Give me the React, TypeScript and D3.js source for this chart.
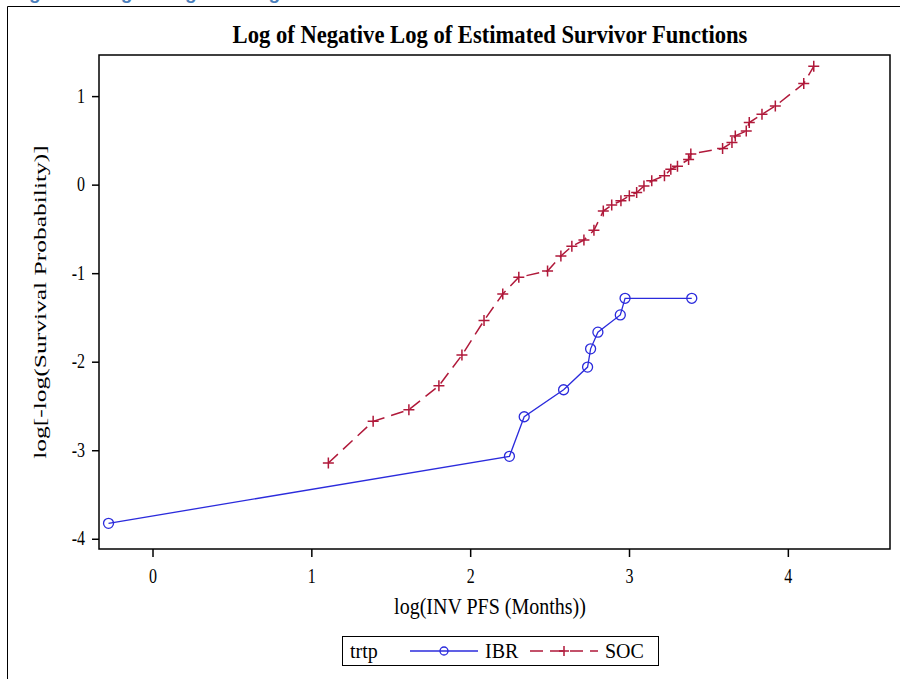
import React from "react";
import * as d3 from "d3";

const ibrX = [-0.28, 2.244, 2.337, 2.585, 2.736, 2.755, 2.801, 2.942, 2.972, 3.392];
const ibrY = [-3.82, -3.063, -2.616, -2.311, -2.055, -1.849, -1.661, -1.466, -1.278, -1.278];

const socX = [1.104, 1.386, 1.611, 1.8, 1.945, 2.084, 2.202, 2.303, 2.484, 2.568, 2.637, 2.713, 2.776, 2.835, 2.888, 2.946, 2.999, 3.045, 3.091, 3.14, 3.22, 3.26, 3.302, 3.372, 3.386, 3.586, 3.645, 3.666, 3.735, 3.754, 3.834, 3.918, 4.097, 4.16];
const socY = [-3.138, -2.668, -2.537, -2.266, -1.92, -1.53, -1.229, -1.041, -0.97, -0.8, -0.69, -0.62, -0.51, -0.293, -0.225, -0.177, -0.12, -0.083, -0.011, 0.049, 0.105, 0.18, 0.214, 0.29, 0.352, 0.414, 0.481, 0.556, 0.612, 0.707, 0.8, 0.894, 1.147, 1.342];

const xTicks = [0, 1, 2, 3, 4];
const yTicks = [1, 0, -1, -2, -3, -4];

const W = 900;
const H = 679;
const L = 99, R = 890, T = 55, B = 549;

const IBR_COLOR = "#2b2bdc";
const SOC_COLOR = "#b0193a";

function T2(props: { x: number; y: number; s?: number; size: number; anchor?: string; bold?: boolean; children: React.ReactNode }) {
  const s = props.s ?? 1.2;
  return (
    <text
      transform={`translate(${props.x},${props.y}) scale(1,${s})`}
      textAnchor={props.anchor || "start"}
      fontSize={props.size}
      fontWeight={props.bold ? "bold" : "normal"}
    >
      {props.children}
    </text>
  );
}

export default function App() {
  const x = d3.scaleLinear().domain([-0.34, 4.64]).range([L, R]);
  const y = d3.scaleLinear().domain([-4.11, 1.47]).range([B, T]);
  const ibr = ibrX.map((v, i) => [v, ibrY[i]] as [number, number]);
  const soc = socX.map((v, i) => [v, socY[i]] as [number, number]);
  const line = d3.line<[number, number]>().x((d) => x(d[0])).y((d) => y(d[1]));
  const serif = "'Liberation Serif', 'Times New Roman', serif";
  const plus = (cx: number, cy: number, s: number) => `M${cx - s},${cy}H${cx + s}M${cx},${cy - s}V${cy + s}`;
  return (
    <svg width={W} height={H} style={{ position: "absolute", left: 0, top: 0, background: "#fff" }} fontFamily={serif}>
      <rect x={0} y={0} width={W} height={H} fill="#fff" />
      <text x={12} y={-1} fontFamily="'Liberation Sans', Arial, sans-serif" fontWeight="bold" fontSize={19} fill="#4a7ebb">
        Figure 1: Log of Negative Log of Estimated Survivor Functions
      </text>
      <path d={`M7.5,${H}V6.5H${W}`} fill="none" stroke="#000" strokeWidth={1} />
      <T2 x={490} y={43} size={22.6} s={1.12} anchor="middle" bold>
        Log of Negative Log of Estimated Survivor Functions
      </T2>
      <rect x={L} y={T} width={R - L} height={B - T} fill="none" stroke="#000" strokeWidth={1.5} />
      {yTicks.map((t) => (
        <g key={"y" + t}>
          <line x1={L - 7} x2={L} y1={y(t)} y2={y(t)} stroke="#000" strokeWidth={1.5} />
          <T2 x={L - 14} y={y(t) + 6} size={16} s={1.25} anchor="end">{t < 0 ? "-" + Math.abs(t) : String(t)}</T2>
        </g>
      ))}
      {xTicks.map((t) => (
        <g key={"x" + t}>
          <line x1={x(t)} x2={x(t)} y1={B} y2={B + 8} stroke="#000" strokeWidth={1.5} />
          <T2 x={x(t)} y={B + 34} size={16} s={1.25} anchor="middle">{String(t)}</T2>
        </g>
      ))}
      <text transform={`translate(46,${(T + B) / 2}) scale(1,1.5) rotate(-90)`} textAnchor="middle" fontSize={17}>
        log[-log(Survival Probability)]
      </text>
      <T2 x={490} y={614} size={20} s={1.2} anchor="middle">log(INV PFS (Months))</T2>

      <path d={line(ibr) || ""} fill="none" stroke={IBR_COLOR} strokeWidth={1.3} />
      {ibr.map((d, i) => (
        <circle key={"c" + i} cx={x(d[0])} cy={y(d[1])} r={5} fill="none" stroke={IBR_COLOR} strokeWidth={1.3} />
      ))}
      <path d={line(soc) || ""} fill="none" stroke={SOC_COLOR} strokeWidth={1.5} strokeDasharray="13,7" />
      {soc.map((d, i) => (
        <path key={"p" + i} d={plus(x(d[0]), y(d[1]), 5.5)} stroke={SOC_COLOR} strokeWidth={1.5} fill="none" />
      ))}

      <g>
        <rect x={342.5} y={636.5} width={316} height={29} fill="#fff" stroke="#000" strokeWidth={1} />
        <T2 x={350} y={658} size={20} s={1.1}>trtp</T2>
        <line x1={410} x2={478} y1={651} y2={651} stroke={IBR_COLOR} strokeWidth={1.3} />
        <circle cx={444} cy={651} r={4} fill="none" stroke={IBR_COLOR} strokeWidth={1.3} />
        <T2 x={485} y={658} size={20} s={1.1}>IBR</T2>
        <line x1={530} x2={598} y1={651} y2={651} stroke={SOC_COLOR} strokeWidth={1.5} strokeDasharray="13,7" />
        <path d={plus(564, 651, 5)} stroke={SOC_COLOR} strokeWidth={1.5} />
        <T2 x={605} y={658} size={20} s={1.1}>SOC</T2>
      </g>
    </svg>
  );
}
